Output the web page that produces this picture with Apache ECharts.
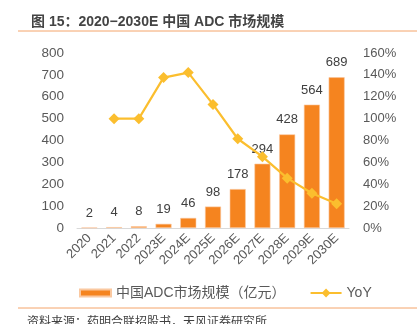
<!DOCTYPE html>
<html><head><meta charset="utf-8">
<script src="https://cdn.jsdelivr.net/npm/echarts@6/dist/echarts.min.js"></script>
<style>html,body{margin:0;padding:0;background:#fff}#c{width:417px;height:324px}</style>
</head><body><div id="c"></div>
<script>
const categories = ['2020','2021','2022','2023E','2024E','2025E','2026E','2027E','2028E','2029E','2030E'];
const marketSize = [2,4,8,19,46,98,178,294,428,564,689];
const yoy = [null,100,100,137.5,142.1,113,81.6,65.2,45.6,31.8,22.2];
const leftTicks = {min:0,max:800,interval:100};
const rightTicks = {min:0,max:160,interval:20};
const FONT = "'Liberation Sans','Noto Sans CJK SC',sans-serif";
const chart = echarts.init(document.getElementById('c'));
chart.setOption({
  animation:false,
  textStyle:{fontFamily:FONT},
  title:{text:'图 15：2020−2030E 中国 ADC 市场规模',left:26,top:10,
    textStyle:{fontSize:14,fontWeight:'bold',color:'#444',fontFamily:FONT}},
  graphic:[
    {type:'line',shape:{x1:18,y1:31,x2:417,y2:31},style:{stroke:'#F4A46A',lineWidth:1}},
    {type:'line',shape:{x1:18,y1:308,x2:417,y2:308},style:{stroke:'#F4A46A',lineWidth:1}},
    {type:'text',left:27,top:317,style:{text:'资料来源：药明合联招股书，天风证券研究所',fontSize:12,fill:'#404040',fontFamily:FONT}}
  ],
  legend:{top:281,left:74,itemGap:24,itemWidth:31,itemHeight:11,
    textStyle:{fontSize:14,color:'#595959',fontFamily:FONT},
    data:[{name:'中国ADC市场规模（亿元）',icon:'path://M0,0 M0,2H31V9H0Z M31,11'},{name:'YoY'}]},
  grid:{left:77,right:68,top:53,bottom:96},
  xAxis:{type:'category',data:categories,
    axisLine:{lineStyle:{color:'#D9D9D9'}},axisTick:{show:false},
    axisLabel:{rotate:45,fontSize:13,color:'#595959',margin:8,interval:0}},
  yAxis:[
    {type:'value',min:leftTicks.min,max:leftTicks.max,interval:leftTicks.interval,
     splitLine:{show:false},axisLine:{show:false},axisTick:{show:false},
     axisLabel:{fontSize:13.5,color:'#595959',margin:13}},
    {type:'value',min:rightTicks.min,max:rightTicks.max,interval:rightTicks.interval,
     splitLine:{show:false},axisLine:{show:false},axisTick:{show:false},
     axisLabel:{fontSize:13,color:'#595959',margin:14,formatter:'{value}%'}}
  ],
  series:[
    {name:'中国ADC市场规模（亿元）',type:'bar',data:marketSize,barWidth:16,
     itemStyle:{color:'#F5841F',borderColor:'#FAC8A0',borderWidth:0.6},
     label:{show:true,position:'top',fontSize:13,color:'#404040',distance:8}},
    {name:'YoY',type:'line',yAxisIndex:1,data:yoy,
     lineStyle:{color:'#FBBE2E',width:2.2},itemStyle:{color:'#FBBE2E'},
     symbol:'diamond',symbolSize:11}
  ]
});
</script></body></html>
